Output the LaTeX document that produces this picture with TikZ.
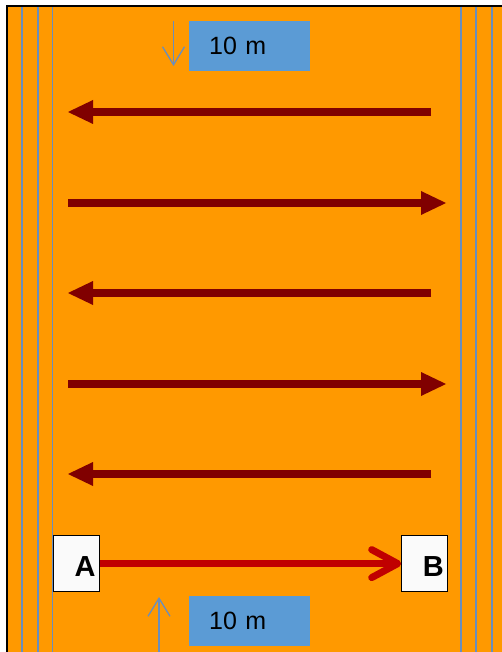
\documentclass[tikz,border=0pt]{standalone}
\usepackage{xcolor}
\usepackage{fontspec}
\setmainfont{Liberation Sans}
\usepackage{tikz}
\usetikzlibrary{positioning, arrows.meta}

\definecolor{track}{RGB}{255,153,0}
\definecolor{lanecol}{RGB}{105,142,190}
\definecolor{labelbox}{RGB}{91,155,213}
\definecolor{lapcol}{RGB}{128,0,0}
\definecolor{sprintcol}{RGB}{192,0,0}

\tikzset{
	lane/.style={draw=lanecol, line width=1.2pt},
	distbox/.style={fill=labelbox, anchor=north west, minimum height=50pt, text width=81pt, inner xsep=20pt, inner ysep=0pt, align=left, font=\fontsize{25}{30}\selectfont},
	marker/.style={draw=lanecol, line width=1.3pt, -{Straight Barb[length=18pt, width=22pt]}},
	lap/.style={draw=lapcol, line width=8pt, -{Triangle[length=25pt, width=24pt, line width=0pt]}},
	sprint/.style={draw=sprintcol, line width=7pt, -{Straight Barb[length=26pt, width=28pt, round]}},
	post/.style={draw=black, line width=1.2pt, fill=white!98!black, minimum height=56pt, text width=38pt, text height=26pt, text depth=0pt, inner xsep=4pt, align=right, font=\fontsize{29}{30}\selectfont\bfseries}
}

\begin{document}
\begin{tikzpicture}[x=1pt, y=-1pt]
	
	%//field, page in pixels from top left
	\useasboundingbox (0,0) rectangle (502,652);
	\fill[track] (7,6) rectangle (502,652);
	\draw[line width=2pt] (7,652) -- (7,6) -- (502,6);
	
	\foreach \x in {22, 38, 52.5, 461, 476, 492}
	\draw[lane] (\x,7) -- (\x,652);
	
	%//distance labels
	\node[distbox] (top) at (189,21) {10 m};
	\node[distbox] (bottom) at (189,596) {10 m};
	
	\coordinate (t1) at (173.5,21);
	\coordinate (t2) at (173.5,66);
	\draw[marker] (t1) -- (t2);
	
	\coordinate (b1) at (159,652);
	\coordinate (b2) at (159,597);
	\draw[marker] (b1) -- (b2);
	
	%//laps
	\foreach \i/\y/\xa/\xb in {1/112/431/68, 2/203/68/446, 3/293/431/68, 4/384/68/446, 5/474/431/68}
	{
		\coordinate (s\i) at (\xa,\y);
		\coordinate (e\i) at (\xb,\y);
		\draw[lap] (s\i) -- (e\i);
	}
	
	%//start and finish
	\node[post, anchor=north west] (A) at (53,535) {A};
	\node[post, right=301pt of A] (B) {B};
	\draw[sprint] (A) -- (B);
	
\end{tikzpicture}
\end{document}
